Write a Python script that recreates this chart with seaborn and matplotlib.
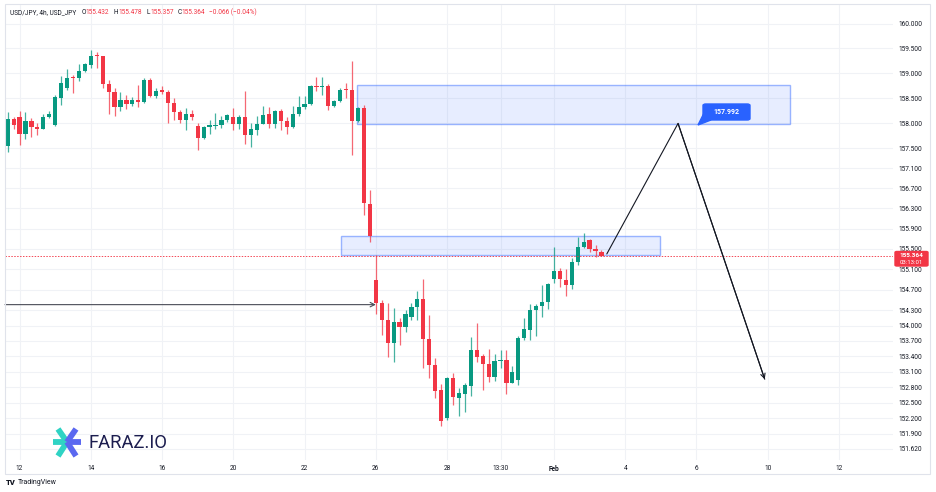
import numpy as np
import pandas as pd
import matplotlib
matplotlib.use("Agg")
import matplotlib.pyplot as plt
import seaborn as sns
from matplotlib.patches import Rectangle, FancyBboxPatch, Polygon
from matplotlib.lines import Line2D
from matplotlib.ticker import NullLocator, FixedLocator, FixedFormatter

# ---------------- data (USD/JPY, 4h candles) ----------------
opens = [157.535, 158.079, 158.111, 157.787, 158.040, 157.926, 157.881, 158.119, 157.966, 158.509,
         158.708, 158.920, 158.900, 159.046, 159.165, 159.358, 159.352, 158.781, 158.616, 158.330,
         158.453, 158.390, 158.463, 158.417, 158.855, 158.543, 158.656, 158.628, 158.409, 158.225,
         158.052, 158.171, 157.946, 157.708, 157.926, 157.946, 157.952, 158.060, 158.125, 157.986,
         158.125, 157.763, 157.867, 157.986, 158.179, 157.986, 158.231, 158.032, 157.912, 158.171,
         158.330, 158.378, 158.741, 158.727, 158.735, 158.338, 158.449, 158.676, 158.656, 158.032,
         158.304, 156.396, 154.899, 154.441, 154.109, 153.658, 154.064, 153.976, 154.175, 154.362,
         154.513, 153.746, 153.229, 152.744, 152.201, 152.976, 152.599, 152.678, 152.823, 153.533,
         153.400, 153.254, 152.996, 153.308, 153.328, 152.883, 152.950, 153.758, 153.917, 154.302,
         154.374, 154.467, 154.919, 155.058, 154.899, 154.785, 155.243, 155.535, 155.686, 155.495,
         155.432]
highs = [158.219, 158.111, 158.244, 158.211, 158.105, 158.000, 158.185, 158.250, 158.563, 158.940,
         159.079, 158.966, 159.193, 159.199, 159.463, 159.431, 159.352, 158.861, 158.696, 158.616,
         158.563, 158.529, 158.761, 158.894, 158.900, 158.702, 158.735, 158.656, 158.497, 158.270,
         158.304, 158.264, 158.000, 157.946, 158.066, 158.205, 158.145, 158.179, 158.310, 158.151,
         158.636, 158.000, 158.139, 158.338, 158.318, 158.264, 158.290, 158.119, 158.338, 158.549,
         158.549, 158.755, 158.914, 158.926, 158.787, 158.469, 158.708, 158.807, 159.244, 158.318,
         158.364, 156.674, 155.382, 154.493, 154.441, 154.348, 154.143, 154.302, 154.433, 154.666,
         154.905, 154.209, 153.374, 152.863, 152.996, 153.070, 152.791, 152.883, 153.785, 154.056,
         153.440, 153.539, 153.453, 153.533, 153.519, 153.209, 153.797, 154.149, 154.422, 154.428,
         154.785, 154.831, 155.547, 155.117, 155.104, 155.316, 155.734, 155.819, 155.700, 155.587,
         155.478]
lows = [157.423, 157.881, 157.569, 157.682, 157.722, 157.753, 157.873, 158.091, 157.932, 158.364,
        158.662, 158.608, 158.835, 159.026, 159.113, 159.113, 158.696, 158.171, 158.131, 158.250,
        158.284, 158.344, 158.330, 158.397, 158.529, 158.503, 158.582, 158.000, 158.052, 158.006,
        157.867, 158.066, 157.469, 157.688, 157.787, 157.873, 157.901, 158.020, 157.867, 157.873,
        157.582, 157.519, 157.767, 157.972, 157.901, 157.901, 157.853, 157.787, 157.906, 158.131,
        158.284, 158.364, 158.636, 158.557, 158.270, 158.318, 158.417, 158.503, 157.356, 158.020,
        156.163, 155.640, 154.229, 153.825, 153.394, 153.300, 153.618, 153.871, 154.109, 154.103,
        153.169, 152.982, 152.585, 152.056, 152.175, 152.453, 152.241, 152.320, 152.625, 153.294,
        152.752, 152.911, 152.923, 153.175, 152.664, 152.877, 152.837, 153.712, 153.718, 153.797,
        154.175, 154.314, 154.839, 154.752, 154.581, 154.720, 155.183, 155.527, 155.447, 155.336,
        155.357]
closes = [158.071, 157.966, 157.781, 158.040, 157.926, 157.873, 158.119, 158.185, 158.517, 158.807,
          158.906, 158.894, 159.046, 159.179, 159.352, 159.338, 158.781, 158.628, 158.330, 158.463,
          158.384, 158.463, 158.423, 158.855, 158.543, 158.642, 158.628, 158.409, 158.225, 158.052,
          158.179, 158.125, 157.708, 157.926, 157.952, 157.960, 158.060, 158.151, 157.980, 158.125,
          157.761, 157.877, 157.980, 158.165, 157.986, 158.231, 158.040, 157.912, 158.179, 158.324,
          158.378, 158.741, 158.716, 158.741, 158.338, 158.449, 158.668, 158.656, 158.032, 158.304,
          156.402, 155.765, 154.441, 154.109, 153.666, 154.064, 153.970, 154.229, 154.362, 154.513,
          153.738, 153.229, 152.738, 152.155, 152.976, 152.605, 152.692, 152.837, 153.533, 153.394,
          153.248, 152.996, 153.314, 153.334, 152.883, 153.095, 153.765, 153.924, 154.302, 154.388,
          154.461, 154.811, 155.058, 154.905, 154.791, 155.249, 155.541, 155.634, 155.501, 155.467,
          155.364]

x_tick_pos = [2, 14, 26, 38, 50, 62, 74, 83, 92, 104, 116, 128, 140]
x_tick_labels = ["12", "14", "16", "20", "22", "26", "28", "13:30", "Feb", "4", "6", "10", "12"]
y_ticks = [160.0, 159.5, 159.0, 158.5, 158.0, 157.5, 157.1, 156.7, 156.3, 155.9, 155.5, 155.1,
           154.7, 154.3, 154.0, 153.7, 153.4, 153.1, 152.8, 152.5, 152.2, 151.9, 151.62]

last_price = 155.364
countdown = "03:13:01"
header_ohlc = {"O": "155.432", "H": "155.478", "L": "155.357", "C": "155.364"}
header_change = "\u22120.066 (\u22120.04%)"

# drawings
upper_zone_top, upper_zone_bottom = 158.767, 157.980
upper_zone_start, upper_zone_end = 58.9, 131.7
lower_zone_top, lower_zone_bottom = 155.765, 155.388
lower_zone_start, lower_zone_end = 56.1, 109.9
projection_idx = [100.9, 112.9, 127.5]
projection_prices = [155.402, 157.992, 152.956]
target_label = "157.992"
support_price = 154.408
support_end_idx = 62

GREEN = "#089981"
RED = "#f23645"
BLUE = "#2962ff"
TXT = "#131722"

W, H = 936, 492

# ---------------- figure ----------------
sns.set_theme(style="white")
plt.rcParams["font.family"] = ["Roboto", "DejaVu Sans"]

fig = plt.figure(figsize=(W / 100, H / 100), dpi=100)
fig.patch.set_facecolor("white")

def fx(x):
    return x / W

def fy(y):
    return 1 - y / H

ax = fig.add_axes([fx(5), fy(460), (893 - 5) / W, (460 - 5) / H])
ax.set_facecolor("white")
ax.set_yscale("log")

df = pd.DataFrame({"open": opens, "high": highs, "low": lows, "close": closes})
df["idx"] = np.arange(len(df))
df["up"] = df["close"] >= df["open"]
colors = np.where(df["up"], GREEN, RED)

ax.vlines(df["idx"], df["low"], df["high"], colors=colors, lw=0.9, alpha=0.75, zorder=3)
body_bottom = df[["open", "close"]].min(axis=1)
body_h = (df["close"] - df["open"]).abs().clip(lower=0.02)
ax.bar(df["idx"], body_h, bottom=body_bottom, width=0.7, color=colors, linewidth=0, zorder=4)

# zones
zone_fc = (41/255, 98/255, 1, 0.11)
zone_ec = (41/255, 98/255, 1, 0.45)
ax.add_patch(Rectangle((upper_zone_start, upper_zone_bottom), upper_zone_end - upper_zone_start,
                       upper_zone_top - upper_zone_bottom, facecolor=zone_fc,
                       edgecolor=zone_ec, lw=1.0, zorder=2))
ax.add_patch(Rectangle((lower_zone_start, lower_zone_bottom), lower_zone_end - lower_zone_start,
                       lower_zone_top - lower_zone_bottom, facecolor=zone_fc,
                       edgecolor=zone_ec, lw=1.0, zorder=2))

# current price line
ax.axhline(last_price, color=RED, ls=(0, (1.5, 1.5)), lw=0.7, alpha=0.9, zorder=5)

# projection path
sns.lineplot(x=projection_idx, y=projection_prices, ax=ax, color=TXT, lw=0.8, sort=False,
             estimator=None, zorder=6)
ax.annotate("", xy=(projection_idx[2], projection_prices[2]),
            xytext=(projection_idx[1], projection_prices[1]),
            arrowprops=dict(arrowstyle="->", color=TXT, lw=0.8, mutation_scale=8,
                            shrinkA=0, shrinkB=0), zorder=6)

# support arrow
ax.annotate("", xy=(support_end_idx, support_price), xytext=(-0.45, support_price),
            arrowprops=dict(arrowstyle="->", color="#4a4d57", lw=0.8, mutation_scale=8,
                            shrinkA=0, shrinkB=0), zorder=6)

# axes styling
ax.set_xlim(-0.45, 149.1)
ax.set_ylim(151.40, 160.379)
ax.set_xticks(x_tick_pos)
ax.set_xticklabels(x_tick_labels)
for lab in ax.get_xticklabels():
    if lab.get_text() == "Feb":
        lab.set_fontweight("bold")
ax.yaxis.set_major_locator(FixedLocator(y_ticks))
ax.yaxis.set_major_formatter(FixedFormatter([f"{v:.3f}" for v in y_ticks]))
ax.yaxis.set_minor_locator(NullLocator())
ax.yaxis.tick_right()
ax.tick_params(axis="y", which="both", length=0, pad=4, labelsize=4.7, colors=TXT)
ax.tick_params(axis="x", length=0, pad=3.5, labelsize=4.7, colors=TXT)
ax.grid(True, which="major", color="#f0f2f6", lw=0.8, zorder=0)
for s in ax.spines.values():
    s.set_visible(False)
ax.set_xlabel("")
ax.set_ylabel("")
if ax.get_legend():
    ax.get_legend().remove()

# outer frame
fig.add_artist(Rectangle((fx(5), fy(474)), 925 / W, 470 / H, transform=fig.transFigure,
                         fill=False, ec="#e0e3eb", lw=0.8))

# price label on the axis
fig.add_artist(FancyBboxPatch((fx(895), fy(266)), 33 / W, 14.5 / H, transform=fig.transFigure,
                              boxstyle="round,pad=0,rounding_size=0.002", fc=RED, ec=RED))
fig.text(fx(911.5), fy(255.3), f"{last_price:.3f}", color="white", fontsize=4.6,
         fontweight="bold", ha="center", va="center")
fig.text(fx(911.5), fy(262.6), countdown, color="white", fontsize=4.3, ha="center", va="center")

# target label
fig.add_artist(Polygon([(fx(704), fy(113)), (fx(711), fy(120)), (fx(698), fy(125))],
                       closed=True, transform=fig.transFigure, fc=BLUE, ec=BLUE))
fig.add_artist(FancyBboxPatch((fx(703), fy(120)), 47 / W, 16 / H, transform=fig.transFigure,
                              boxstyle="round,pad=0,rounding_size=0.003", fc=BLUE, ec=BLUE))
fig.text(fx(726.5), fy(112), target_label, color="white", fontsize=5, fontweight="bold",
         ha="center", va="center")

# header
yh = fy(12.3)
fig.text(fx(10), yh, "USD/JPY, 4h, USD_JPY", color=TXT, fontsize=4.7, va="center")
hx = {"O": (81.3, 85), "H": (113.7, 118), "L": (146.7, 150), "C": (177.3, 181)}
for k, v in header_ohlc.items():
    fig.text(fx(hx[k][0]), yh, k, color=TXT, fontsize=4.7, va="center")
    fig.text(fx(hx[k][1]), yh, v, color=RED, fontsize=4.7, va="center")
fig.text(fx(209), yh, header_change, color=RED, fontsize=4.7, va="center")

# FARAZ.IO logo
TEAL = "#2fd3c4"
VIO = "#5b68f0"
cx, cy = 67, 442
arms = [((53, 442), TEAL), ((58, 429), TEAL), ((58, 456), TEAL),
        ((76, 429), VIO), ((76, 456), VIO), ((81, 442), VIO)]
for (ex, ey), col in arms:
    fig.add_artist(Line2D([fx(cx), fx(ex)], [fy(cy), fy(ey)], transform=fig.transFigure,
                          color=col, lw=4.2, solid_capstyle="butt"))
fig.text(fx(88), fy(443), "FARAZ.IO", color="#1c1d4f", fontsize=13.3, va="center")

# TradingView logo
fig.text(fx(6), fy(482.5), "TV", color=TXT, fontsize=5.5, fontweight="heavy", va="center")
fig.text(fx(18), fy(482.5), "TradingView", color=TXT, fontsize=5, va="center")

fig.savefig("out.png", dpi=100, facecolor="white")
